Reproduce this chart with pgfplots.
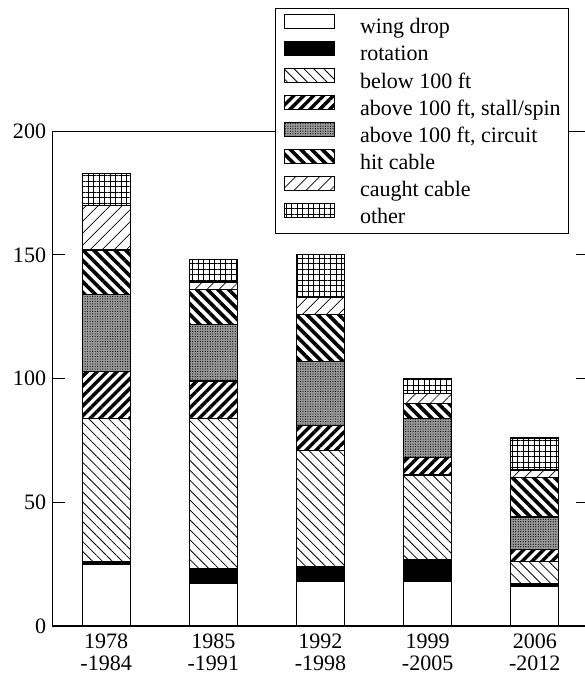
\documentclass[border=0pt]{standalone}
\usepackage{pgfplots}
\pgfplotsset{compat=1.18}
\usepackage{pgfplotstable}
\usepackage{fontspec}
\setmainfont{Liberation Serif}
\usetikzlibrary{patterns.meta}

\pgfplotstableread{
x wing rot below stall circ hit caught other
0 25 1 58 19 31 18 18 13
1 17 6 61 15 23 14 3 9
2 18 6 47 10 26 19 7 17
3 18 9 34 7 16 6 4 6
4 16 1 9 5 13 16 3 13
}\datatable

\tikzset{
  pwing/.style={fill=white},
  prot/.style={fill=black},
  pbelow/.style={fill=white, postaction={pattern={Lines[angle=-45,distance=7pt,line width=0.8pt]}}},
  pstall/.style={fill=white, postaction={pattern={Lines[angle=45,distance=7pt,line width=3.4pt]}}},
  pcirc/.style={fill=black!40, postaction={pattern={Dots[distance=2.5pt,radius=0.6pt]}}},
  phit/.style={fill=white, postaction={pattern={Lines[angle=-45,distance=7.5pt,line width=3.6pt]}}},
  pcaught/.style={fill=white, postaction={pattern={Lines[angle=45,distance=8.5pt,line width=0.7pt]}}},
  pother/.style={fill=white, postaction={pattern={Hatch[angle=0,distance=5.5pt,line width=1pt]}}},
}

\begin{document}
\begin{tikzpicture}[font=\fontsize{22}{22}\selectfont]
\begin{axis}[
  scale only axis, width=535pt, height=494pt,
  xmin=-0.5, xmax=4.5, ymin=0, ymax=200,
  ybar stacked, bar width=48pt,
  axis line style={line width=1.3pt},
  ytick={0,50,100,150,200},
  ytick pos=both, tick align=inside, major tick length=12pt,
  every tick/.style={line width=1.2pt, black},
  yticklabel style={xshift=-3pt},
  xtick={0,1,2,3,4},
  xticklabels={{1978\\-1984},{1985\\-1991},{1992\\-1998},{1999\\-2005},{2006\\-2012}},
  xticklabel style={align=center, yshift=-4pt},
  xtick style={draw=none},
  /pgf/number format/assume math mode=true,
  legend style={at={(0.9645,1.249)}, anchor=north east,
    line width=1.2pt, inner xsep=8pt, inner ysep=5pt, row sep=1.7pt,
    nodes={inner sep=0pt, text height=20pt, text depth=5pt}},
  legend cell align=left,
  legend image code/.code={\draw[#1, line width=1pt] (0pt,-2pt) rectangle (50pt,12.3pt); \path (75pt,0pt);},
  every axis plot/.append style={draw=black, line width=1.2pt},
]
\addplot[pwing] table[x=x,y=wing]{\datatable};
\addplot[prot] table[x=x,y=rot]{\datatable};
\addplot[pbelow] table[x=x,y=below]{\datatable};
\addplot[pstall] table[x=x,y=stall]{\datatable};
\addplot[pcirc] table[x=x,y=circ]{\datatable};
\addplot[phit] table[x=x,y=hit]{\datatable};
\addplot[pcaught] table[x=x,y=caught]{\datatable};
\addplot[pother] table[x=x,y=other]{\datatable};
\legend{wing drop, rotation, below 100 ft, {above 100 ft, stall/spin}, {above 100 ft, circuit}, hit cable, caught cable, other}
\end{axis}
\pgfresetboundingbox
\path[use as bounding box] ([xshift=-52.5pt,yshift=-51pt]current axis.south west) rectangle ([xshift=531.5pt,yshift=131pt]current axis.north west);
\end{tikzpicture}
\end{document}
